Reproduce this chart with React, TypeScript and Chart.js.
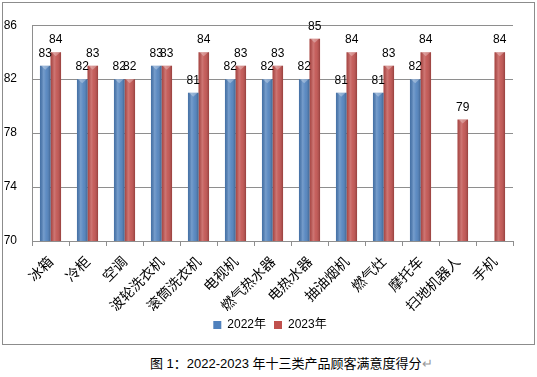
import React, { useEffect, useRef } from "react";
import { Chart, registerables } from "chart.js";

Chart.register(...registerables);

const categories = ["冰箱", "冷柜", "空调", "波轮洗衣机", "滚筒洗衣机", "电视机", "燃气热水器", "电热水器", "抽油烟机", "燃气灶", "摩托车", "扫地机器人", "手机"];
const series2022 = [83, 82, 82, 83, 81, 82, 82, 82, 81, 81, 82, null, null];
const series2023 = [84, 83, 82, 83, 84, 83, 83, 85, 84, 83, 84, 79, 84];
const yTicks = [70, 74, 78, 82, 86];
const seriesNames = ["2022年", "2023年"];
const caption = "图 1：2022-2023 年十三类产品顾客满意度得分";

const legendShift = {
  id: "legendShift",
  afterLayout(chart: any) {
    const lg = chart.legend;
    if (lg) {
      lg.left += 12;
      lg.right += 12;
    }
  },
};

const barShade = {
  id: "barShade",
  afterDatasetsDraw(chart: any) {
    const ctx = chart.ctx;
    const area = chart.chartArea;
    ctx.save();
    chart.data.datasets.forEach((ds: any, di: number) => {
      const meta = chart.getDatasetMeta(di);
      meta.data.forEach((el: any, i: number) => {
        const v = ds.data[i];
        if (v === null || v === undefined) return;
        const w = el.width;
        const l = el.x - w / 2;
        const top = el.y;
        const bottom = Math.min(el.base, area.bottom);
        const g = ctx.createLinearGradient(l, 0, l + w, 0);
        g.addColorStop(0, "rgba(0,0,0,0.12)");
        g.addColorStop(0.35, "rgba(255,255,255,0.22)");
        g.addColorStop(0.6, "rgba(255,255,255,0.08)");
        g.addColorStop(1, "rgba(0,0,0,0.22)");
        ctx.fillStyle = g;
        ctx.fillRect(l, top, w, bottom - top);
        ctx.fillStyle = "rgba(255,255,255,0.3)";
        ctx.beginPath();
        ctx.moveTo(l + 1, top);
        ctx.lineTo(l + w - 1, top);
        ctx.lineTo(el.x, top + 4);
        ctx.closePath();
        ctx.fill();
        ctx.fillStyle = "#000";
        ctx.font = "12px 'Liberation Sans', Arial, sans-serif";
        ctx.textAlign = "center";
        ctx.textBaseline = "alphabetic";
        ctx.fillText(String(v), el.x, top - 9);
      });
    });
    ctx.restore();
  },
};

export default function App() {
  const ref = useRef<HTMLCanvasElement>(null);
  useEffect(() => {
    if (!ref.current) return;
    const chart = new Chart(ref.current, {
      type: "bar",
      data: {
        labels: categories,
        datasets: [
          { label: seriesNames[0], data: series2022, backgroundColor: "#4f81bd", categoryPercentage: 0.57, barPercentage: 1 },
          { label: seriesNames[1], data: series2023, backgroundColor: "#c0504d", categoryPercentage: 0.57, barPercentage: 1 },
        ],
      },
      options: {
        animation: false,
        responsive: false,
        maintainAspectRatio: false,
        layout: { padding: { left: 0, right: 21, top: 22, bottom: 3 } },
        plugins: {
          legend: {
            position: "bottom",
            labels: {
              boxWidth: 8,
              boxHeight: 8,
              padding: 8,
              color: "#000",
              font: { size: 12, family: "'Liberation Sans', 'Noto Sans CJK SC', sans-serif" },
            },
          },
          tooltip: { enabled: false },
        },
        scales: {
          x: {
            grid: { offset: true, drawOnChartArea: false, tickLength: 5, color: "#8e8e8e" },
            border: { color: "#8e8e8e" },
            ticks: {
              color: "#000",
              minRotation: 45,
              maxRotation: 45,
              padding: 7,
              font: { size: 14, family: "'Noto Sans CJK SC', sans-serif" },
            },
            afterFit: (s: any) => { s.height = 70; },
          },
          y: {
            min: 70,
            max: 86,
            afterBuildTicks: (s: any) => { s.ticks = yTicks.map((v) => ({ value: v })); },
            grid: { drawTicks: false, color: "#8e8e8e" },
            border: { color: "#8e8e8e" },
            ticks: {
              color: "#000",
              padding: 15,
              font: { size: 12, family: "'Liberation Sans', Arial, sans-serif" },
            },
            afterFit: (s: any) => { s.width = 29; },
          },
        },
      },
      plugins: [barShade, legendShift],
    });
    return () => chart.destroy();
  }, []);
  return (
    <div style={{ position: "fixed", left: 0, top: 0, width: 537, height: 377, background: "#fff" }}>
      <div style={{ position: "absolute", left: 2, top: 2, width: 533, height: 343, boxSizing: "border-box", border: "1px solid #8c8c8c" }} />
      <canvas ref={ref} width={531} height={341} style={{ position: "absolute", left: 3, top: 3, width: 531, height: 341 }} />
      <div style={{ position: "absolute", left: 150, top: 355, fontSize: 13, lineHeight: "18px", whiteSpace: "nowrap", color: "#000", fontFamily: "'Liberation Sans', 'Noto Sans CJK SC', sans-serif" }}>
        {caption}<span style={{ color: "#999" }}>↵</span>
      </div>
    </div>
  );
}
